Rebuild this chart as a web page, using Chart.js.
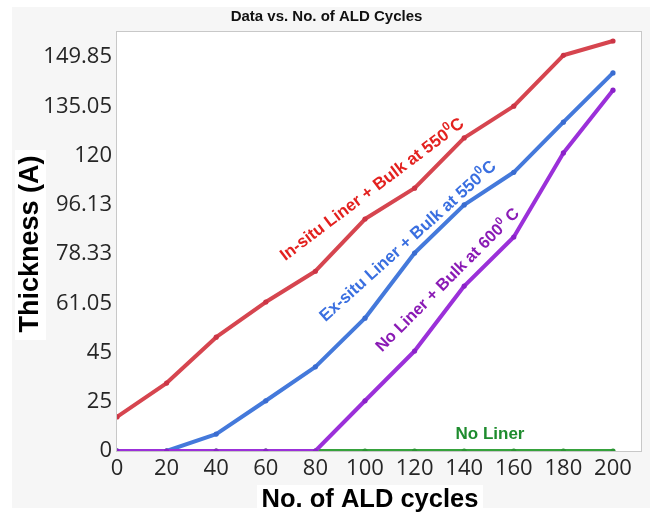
<!DOCTYPE html>
<html><head><meta charset="utf-8">
<script src="https://cdn.jsdelivr.net/npm/chart.js@4/dist/chart.umd.min.js"></script>
<style>html,body{margin:0;padding:0;background:#fff}#wrap{width:650px;height:514px}</style>
</head><body><div id="wrap"><canvas id="c" width="650" height="514"></canvas></div>
<script>
// ---- data ----
const cycles = [0, 20, 40, 60, 80, 100, 120, 140, 160, 180, 200];
const inSitu550 = [17.3, 32.6, 50.0, 61.5, 72.3, 91.0, 104.2, 125.4, 135.1, 150.4, 154.7];
const exSitu550 = [0, 0, 8.6, 25.4, 39.2, 56.2, 78.7, 96.1, 111.9, 130.2, 145.1];
const noLiner600 = [0, 0, 0, 0, 0, 25.4, 45.5, 67.1, 84.5, 120.8, 139.9];
const noLiner = [0, 0, 0, 0, 0, 0, 0, 0, 0, 0, 0];
const yTickValues = [0, 25, 45, 61.05, 78.33, 96.13, 120, 135.05, 149.85];
const yTickLabels = ['0', '25', '45', '61.05', '78.33', '96.13', '120', '135.05', '149.85'];
const xTickValues = [0, 20, 40, 60, 80, 100, 120, 140, 160, 180, 200];
const seriesNames = ['No Liner + Bulk at 600°C', 'Ex-situ Liner + Bulk at 550°C', 'In-situ Liner + Bulk at 550°C', 'No Liner'];

// ---- segmented (equal-spaced tick) axis: piecewise linear between tick values ----
const TOP_INDEX = 8.51;
function valueToIndex(v) {
  const t = yTickValues, n = t.length;
  if (v <= t[0]) return (v - t[0]) / (t[1] - t[0]);
  for (let i = 1; i < n; i++) if (v <= t[i]) return i - 1 + (v - t[i - 1]) / (t[i] - t[i - 1]);
  return n - 1 + (v - t[n - 1]) / (t[n - 1] - t[n - 2]);
}
function indexToValue(f) {
  const t = yTickValues, n = t.length;
  if (f <= 0) return t[0] + f * (t[1] - t[0]);
  if (f >= n - 1) return t[n - 1] + (f - (n - 1)) * (t[n - 1] - t[n - 2]);
  const i = Math.floor(f);
  return t[i] + (f - i) * (t[i + 1] - t[i]);
}
class SegmentedScale extends Chart.LinearScale {
  buildTicks() { return yTickValues.map(v => ({ value: v })); }
  getPixelForValue(v) { return this.getPixelForDecimal(valueToIndex(v) / TOP_INDEX); }
  getValueForPixel(p) { return indexToValue(this.getDecimalForPixel(p) * TOP_INDEX); }
}
SegmentedScale.id = 'segmented';
SegmentedScale.defaults = Chart.LinearScale.defaults;
Chart.register(SegmentedScale);

const toPts = arr => cycles.map((c, i) => ({ x: c, y: arr[i] }));
function ds(label, arr, line, dot) {
  return { label, data: toPts(arr), borderColor: line, backgroundColor: dot, pointBackgroundColor: dot,
    pointBorderWidth: 0, pointRadius: 2.6, borderWidth: 4, tension: 0, borderJoinStyle: 'round', borderCapStyle: 'round' };
}

const annotations = [
  { x: 102.6, y: 104.0, angle: 37, size: 17, color: '#e3211f', parts: [{ t: 'In-situ Liner + Bulk at 550' }, { t: '0', sup: true }, { t: 'C' }] },
  { x: 117, y: 83.3, angle: 42, size: 17, color: '#3a6fe0', parts: [{ t: 'Ex-situ Liner + Bulk at 550' }, { t: '0', sup: true }, { t: 'C' }] },
  { x: 133, y: 69.5, angle: 45, size: 16.5, color: '#8a1bb5', parts: [{ t: 'No Liner + Bulk at 600' }, { t: '0', sup: true }, { t: ' C' }] },
  { x: 150.4, y: 9.1, angle: 0, size: 17, color: '#1e8c2e', parts: [{ t: 'No Liner' }] }
];
const SANS = '"Liberation Sans", Arial, sans-serif';

function drawRotated(ctx, x, y, angle, parts, color, size) {
  ctx.save();
  ctx.translate(x, y);
  ctx.rotate(-angle * Math.PI / 180);
  ctx.fillStyle = color;
  ctx.textBaseline = 'alphabetic';
  ctx.textAlign = 'left';
  const main = `bold ${size}px ${SANS}`, sup = `bold ${Math.round(size * 0.68)}px ${SANS}`;
  let total = 0;
  parts.forEach(p => { ctx.font = p.sup ? sup : main; p.w = ctx.measureText(p.t).width; total += p.w; });
  let cx = -total / 2;
  const base = size * 0.36;
  parts.forEach(p => { ctx.font = p.sup ? sup : main; ctx.fillText(p.t, cx, p.sup ? base - size * 0.42 : base); cx += p.w; });
  ctx.restore();
}

const decor = {
  id: 'decor',
  beforeDraw(chart) {
    const { ctx, chartArea: a } = chart;
    ctx.save();
    ctx.fillStyle = '#f6f6f6';
    ctx.fillRect(12, 7, 638, 501);
    ctx.fillStyle = '#ffffff';
    ctx.fillRect(257, 485, 226, 29);
    ctx.fillRect(15, 150, 31, 190);
    ctx.fillRect(a.left, a.top, a.right - a.left, a.bottom - a.top);
    ctx.strokeStyle = '#c8c8c8';
    ctx.lineWidth = 1;
    ctx.strokeRect(a.left - 0.5, a.top - 0.5, a.right - a.left + 1, a.bottom - a.top + 1);
    // axis titles
    ctx.fillStyle = '#000';
    ctx.font = `bold 25.5px ${SANS}`;
    ctx.textAlign = 'center';
    ctx.textBaseline = 'middle';
    ctx.fillText('No. of ALD cycles', 370, 500);
    ctx.translate(31, 244);
    ctx.rotate(-Math.PI / 2);
    ctx.font = `bold 27px ${SANS}`;
    ctx.fillText('Thickness (A)', 0, 0);
    ctx.restore();
  },
  afterDatasetsDraw(chart) {
    const { ctx, scales } = chart;
    annotations.forEach(an => {
      drawRotated(ctx, scales.x.getPixelForValue(an.x), scales.y.getPixelForValue(an.y), an.angle, an.parts, an.color, an.size);
    });
  }
};

const tickFont = { family: '"Open Sans", "Noto Sans", sans-serif', size: 22 };
new Chart(document.getElementById('c'), {
  type: 'line',
  data: {
    datasets: [
      ds(seriesNames[0], noLiner600, '#9b30d9', '#8a22c8'),
      ds(seriesNames[1], exSitu550, '#4479db', '#3a6cd0'),
      ds(seriesNames[2], inSitu550, '#d6454f', '#cc3545'),
      ds(seriesNames[3], noLiner, '#36a23c', '#2a9432')
    ]
  },
  options: {
    responsive: false, animation: false, devicePixelRatio: 1,
    layout: { padding: { left: 12, right: 9, top: 0, bottom: 0 } },
    plugins: {
      legend: { display: false }, tooltip: { enabled: false },
      title: { display: true, text: 'Data vs. No. of ALD Cycles', color: '#111',
        font: { family: SANS, size: 15, weight: 'bold' }, padding: { top: 8, bottom: 6 } }
    },
    scales: {
      x: {
        type: 'linear', min: 0, max: 211.3,
        afterBuildTicks: s => { s.ticks = xTickValues.map(v => ({ value: v })); },
        grid: { display: false, drawTicks: false }, border: { display: false },
        ticks: { font: tickFont, color: '#262626', padding: 5, maxRotation: 0, autoSkip: false },
        afterFit: s => { s.height = 63; }
      },
      y: {
        type: 'segmented', min: 0, max: 157.4,
        grid: { display: false, drawTicks: false }, border: { display: false },
        ticks: { font: tickFont, color: '#262626', padding: 5, autoSkip: false, callback: (v, i) => yTickLabels[i] },
        afterFit: s => { s.width = 105; }
      }
    }
  },
  plugins: [decor]
});
</script>
</body></html>
